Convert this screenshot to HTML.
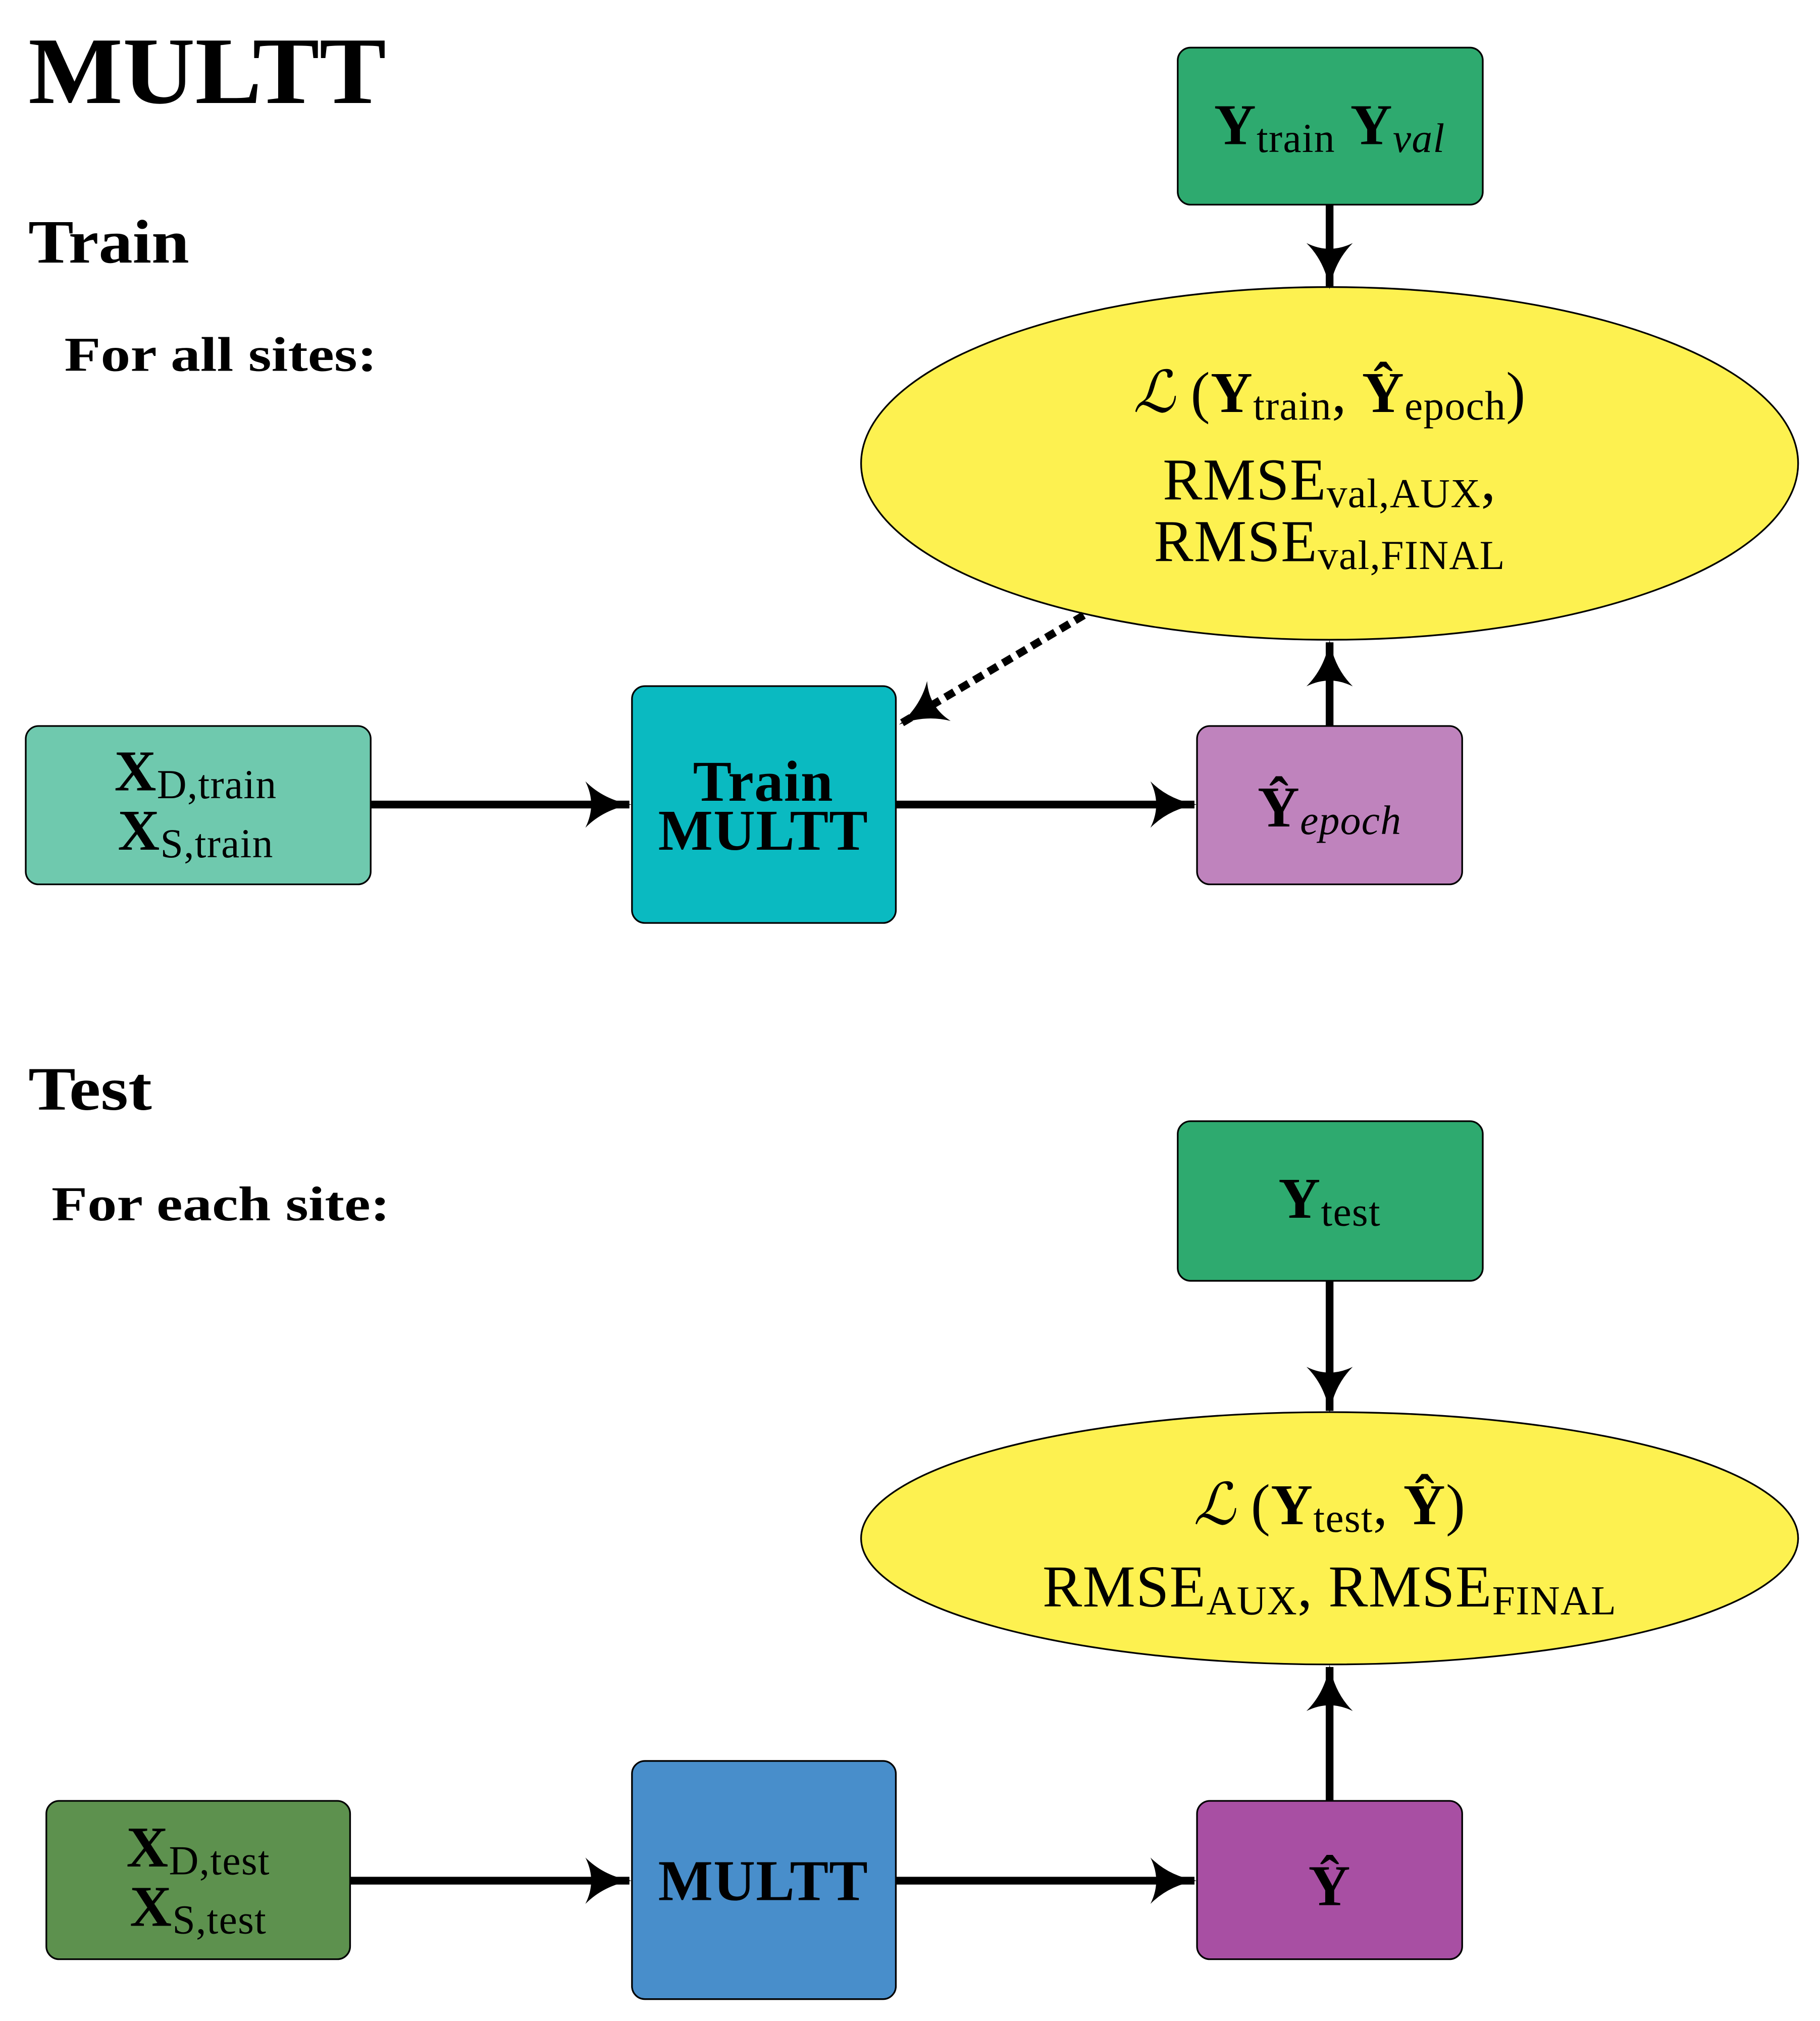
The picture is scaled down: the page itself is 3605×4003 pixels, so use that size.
<!DOCTYPE html>
<html><head><meta charset="utf-8"><style>
html,body{margin:0;padding:0;background:#fff;}
svg{display:block;}
text{font-family:"Liberation Serif","DejaVu Serif",serif;fill:#000;}
</style></head><body>
<svg width="3605" height="4003" viewBox="0 0 1414 1570" preserveAspectRatio="none" xmlns="http://www.w3.org/2000/svg">
<defs>
<marker id="ah" viewBox="0 0 20 20" refX="19" refY="10" markerWidth="6" markerHeight="6" markerUnits="strokeWidth" orient="auto">
<path d="M0,0 Q8,8 20,10 Q8,12 0,20 Q5,10 0,0Z" fill="#000"/>
</marker>
</defs>
<g font-weight="bold">
<text x="22" y="80" font-size="74" textLength="278" lengthAdjust="spacingAndGlyphs">MULTT</text>
<text x="22" y="204" font-size="48" textLength="125" lengthAdjust="spacingAndGlyphs">Train</text>
<text x="50" y="288" font-size="38" textLength="243" lengthAdjust="spacingAndGlyphs">For all sites:</text>
<text x="22" y="862" font-size="48" textLength="96" lengthAdjust="spacingAndGlyphs">Test</text>
<text x="40" y="948" font-size="38" textLength="263" lengthAdjust="spacingAndGlyphs">For each site:</text>
</g>
<g stroke="#000" stroke-width="1.3">
<rect x="915" y="37" width="237" height="122" rx="10" fill="#2eaa6f"/>
<ellipse cx="1033" cy="360" rx="364" ry="137" fill="#fdf150"/>
<rect x="20" y="564" width="268" height="123" rx="10" fill="#6fc9ae"/>
<rect x="491" y="533" width="205" height="184" rx="10" fill="#0abac1"/>
<rect x="930" y="564" width="206" height="123" rx="10" fill="#bf83bd"/>
<rect x="915" y="871" width="237" height="124" rx="10" fill="#2eaa6f"/>
<ellipse cx="1033" cy="1195" rx="364" ry="98" fill="#fdf150"/>
<rect x="36" y="1399" width="236" height="123" rx="10" fill="#5d914e"/>
<rect x="491" y="1368" width="205" height="185" rx="10" fill="#488ecb"/>
<rect x="930" y="1399" width="206" height="123" rx="10" fill="#a84fa3"/>
</g>
<g stroke="#000" stroke-width="6" fill="none" marker-end="url(#ah)">
<line x1="1033" y1="159" x2="1033" y2="223"/>
<line x1="288" y1="625" x2="489" y2="625"/>
<line x1="696" y1="625" x2="928" y2="625"/>
<line x1="1033" y1="564" x2="1033" y2="499"/>
<line x1="842" y1="478" x2="700" y2="562" stroke-dasharray="8,5"/>
<line x1="1033" y1="995" x2="1033" y2="1096"/>
<line x1="272" y1="1461" x2="489" y2="1461"/>
<line x1="696" y1="1461" x2="928" y2="1461"/>
<line x1="1033" y1="1399" x2="1033" y2="1295"/>
</g>
<g text-anchor="middle" letter-spacing="0.5">
<text x="1033" y="112" font-size="45"><tspan font-weight="bold">Y</tspan><tspan font-size="32" dy="6">train</tspan><tspan dy="-6"> </tspan><tspan font-weight="bold">Y</tspan><tspan font-size="32" dy="6" font-style="italic">val</tspan></text>
<text x="1033" y="320" font-size="45"><tspan font-style="italic">ℒ</tspan> (<tspan font-weight="bold">Y</tspan><tspan font-size="32" dy="6">train</tspan><tspan dy="-6">, </tspan><tspan font-weight="bold">Ŷ</tspan><tspan font-size="32" dy="6">epoch</tspan><tspan dy="-6">)</tspan></text>
<text x="1033" y="388" font-size="46">RMSE<tspan font-size="32" dy="6">val,AUX</tspan><tspan dy="-6">,</tspan></text>
<text x="1033" y="436" font-size="46">RMSE<tspan font-size="32" dy="6">val,FINAL</tspan></text>
<text x="152" y="614" font-size="45"><tspan font-weight="bold">X</tspan><tspan font-size="32" dy="6">D,train</tspan></text>
<text x="152" y="660" font-size="45"><tspan font-weight="bold">X</tspan><tspan font-size="32" dy="6">S,train</tspan></text>
<text x="593" y="622" font-size="45" font-weight="bold">Train</text>
<text x="593" y="660" font-size="45" font-weight="bold">MULTT</text>
<text x="1033" y="642" font-size="45"><tspan font-weight="bold">Ŷ</tspan><tspan font-size="32" dy="6" font-style="italic">epoch</tspan></text>
<text x="1033" y="946" font-size="45"><tspan font-weight="bold">Y</tspan><tspan font-size="32" dy="6">test</tspan></text>
<text x="1033" y="1184" font-size="45"><tspan font-style="italic">ℒ</tspan> (<tspan font-weight="bold">Y</tspan><tspan font-size="32" dy="6">test</tspan><tspan dy="-6">, </tspan><tspan font-weight="bold">Ŷ</tspan>)</text>
<text x="1033" y="1248" font-size="46">RMSE<tspan font-size="32" dy="6">AUX</tspan><tspan dy="-6">, RMSE</tspan><tspan font-size="32" dy="6">FINAL</tspan></text>
<text x="154" y="1450" font-size="45"><tspan font-weight="bold">X</tspan><tspan font-size="32" dy="6">D,test</tspan></text>
<text x="154" y="1496" font-size="45"><tspan font-weight="bold">X</tspan><tspan font-size="32" dy="6">S,test</tspan></text>
<text x="593" y="1476" font-size="45" font-weight="bold">MULTT</text>
<text x="1033" y="1480" font-size="45" font-weight="bold">Ŷ</text>
</g>
</svg>
</body></html>
